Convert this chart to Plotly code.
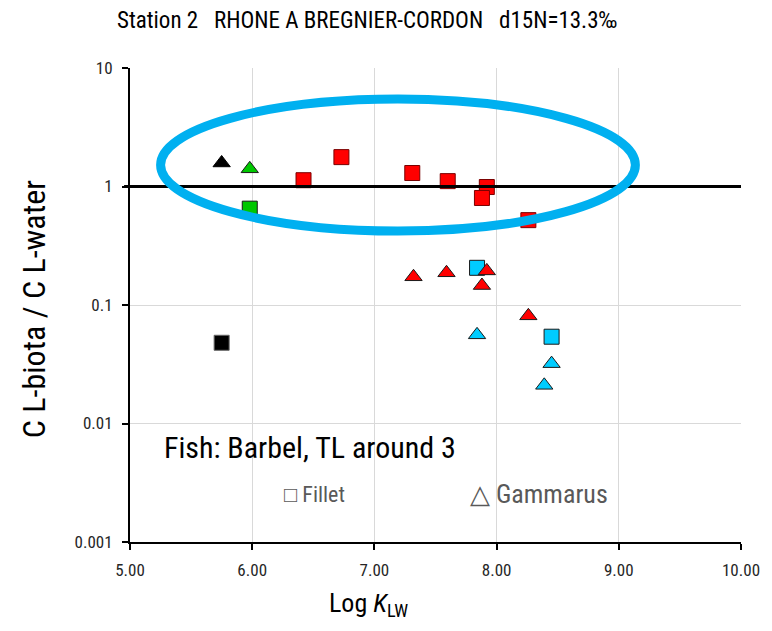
import plotly.graph_objects as go

# Fish fillet (squares) and Gammarus (triangles): log K_LW vs C L-biota / C L-water
red_fillet_x = [6.42, 6.73, 7.31, 7.60, 7.92, 7.88, 8.26]
red_fillet_y = [1.13, 1.77, 1.30, 1.11, 0.99, 0.80, 0.52]
red_gamm_x = [7.32, 7.59, 7.92, 7.88, 8.26]
red_gamm_y = [0.173, 0.187, 0.194, 0.146, 0.081]

cyan_fillet_x = [7.84, 8.45]
cyan_fillet_y = [0.206, 0.054]
cyan_gamm_x = [7.84, 8.45, 8.39]
cyan_gamm_y = [0.056, 0.032, 0.021]

green_fillet_x = [5.98]
green_fillet_y = [0.65]
green_gamm_x = [5.98]
green_gamm_y = [1.41]

black_fillet_x = [5.75]
black_fillet_y = [0.048]
black_gamm_x = [5.75]
black_gamm_y = [1.58]

x_ticks = [5, 6, 7, 8, 9, 10]
x_tick_text = ["5.00", "6.00", "7.00", "8.00", "9.00", "10.00"]
y_ticks = [0.001, 0.01, 0.1, 1, 10]
y_tick_text = ["0.001", "0.01", "0.1", "1", "10"]

FONT = "Liberation Sans Narrow, Arial Narrow, Roboto Condensed, sans-serif"

# plot area in pixels
L, R, T, B = 130, 749, 68, 542
PW, PH = R - L, B - T


def px(x):
    return (x - L) / PW


def py(y):
    return (B - y) / PH


fig = go.Figure()


def add_series(x, y, symbol, fill, edge, size, edge_w=1):
    fig.add_trace(go.Scatter(
        x=x, y=y, mode="markers", showlegend=False, cliponaxis=False,
        marker=dict(symbol=symbol, color=fill, size=size,
                    line=dict(color=edge, width=edge_w)),
    ))


add_series(cyan_fillet_x, cyan_fillet_y, "square", "#00CCFF", "#1a1a1a", 15)
add_series(cyan_gamm_x, cyan_gamm_y, "triangle-up", "#00CCFF", "#1a1a1a", 15)
add_series(red_fillet_x, red_fillet_y, "square", "#FF0000", "#7a0000", 15)
add_series(red_gamm_x, red_gamm_y, "triangle-up", "#FF0000", "#1a1a1a", 15)
add_series(green_fillet_x, green_fillet_y, "square", "#00C800", "#1a1a1a", 15)
add_series(green_gamm_x, green_gamm_y, "triangle-up", "#00C800", "#1a1a1a", 15)
add_series(black_fillet_x, black_fillet_y, "square", "#000000", "#666666", 15)
add_series(black_gamm_x, black_gamm_y, "triangle-up", "#000000", "#000000", 15)

# Reference line at ratio = 1
fig.add_shape(type="line", xref="paper", yref="y", x0=px(124), x1=1, y0=1, y1=1,
              line=dict(color="black", width=3), layer="above")

# Highlight ellipse around the near-unity group
fig.add_shape(type="circle", xref="paper", yref="paper",
              x0=px(161), x1=px(642), y0=py(231), y1=py(99),
              line=dict(color="#00B0F0", width=9), layer="above")

fig.add_annotation(xref="paper", yref="paper", x=px(162), y=py(447),
                   text="Fish: Barbel, TL around 3", showarrow=False, xanchor="left",
                   yanchor="middle", font=dict(family=FONT, size=30, color="black"))
fig.add_annotation(xref="paper", yref="paper", x=px(284), y=py(494),
                   text="□ Fillet", showarrow=False, xanchor="left", yanchor="middle",
                   font=dict(family=FONT, size=22, color="#595959"))
fig.add_annotation(xref="paper", yref="paper", x=px(472), y=py(494),
                   text="△ Gammarus", showarrow=False, xanchor="left", yanchor="middle",
                   font=dict(family=FONT, size=26, color="#595959"))

fig.add_annotation(xref="paper", yref="paper", x=px(115), y=py(21),
                   text="Station 2   RHONE A BREGNIER-CORDON   d15N=13.3‰",
                   showarrow=False, xanchor="left", yanchor="middle",
                   font=dict(family=FONT, size=23, color="black"))

# Axis titles
fig.add_annotation(xref="paper", yref="paper", x=px(372), y=py(604),
                   text="Log <i>K</i><sub>LW</sub>", showarrow=False,
                   xanchor="center", yanchor="middle",
                   font=dict(family=FONT, size=26, color="black"))
fig.add_annotation(xref="paper", yref="paper", x=px(33), y=py(309),
                   text="C L-biota / C L-water", showarrow=False, textangle=-90,
                   xanchor="center", yanchor="middle",
                   font=dict(family=FONT, size=32, color="black"))

fig.update_layout(
    width=772, height=631,
    margin=dict(l=L, r=772 - R, t=T, b=631 - B),
    paper_bgcolor="white", plot_bgcolor="white",
    font=dict(family=FONT, size=17, color="#262626"),
    xaxis=dict(
        range=[5, 10], tickvals=x_ticks, ticktext=x_tick_text,
        showgrid=True, gridcolor="#d9d9d9", gridwidth=1,
        showline=True, linecolor="black", linewidth=2,
        ticks="outside", ticklen=6, tickcolor="black", tickwidth=2,
        zeroline=False, ticklabelstandoff=6,
    ),
    yaxis=dict(
        type="log", range=[-3, 1], tickvals=y_ticks, ticktext=y_tick_text,
        showgrid=True, gridcolor="#d9d9d9", gridwidth=1,
        showline=True, linecolor="black", linewidth=2,
        ticks="outside", ticklen=6, tickcolor="black", tickwidth=2,
        zeroline=False, ticklabelstandoff=6,
    ),
)

fig.write_html("out.html")
